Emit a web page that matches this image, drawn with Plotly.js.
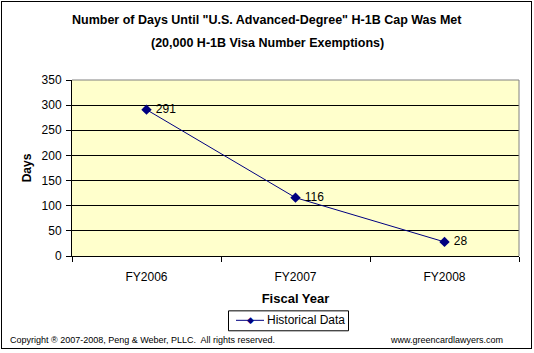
<!DOCTYPE html>
<html><head><meta charset="utf-8">
<script src="https://cdn.plot.ly/plotly-3.0.1.min.js"></script>
<style>
html,body{margin:0;padding:0;background:#fff;}
#wrap{position:relative;width:534px;height:353px;}
#border{position:absolute;left:1px;top:1px;width:529px;height:346px;border:1px solid #000;pointer-events:none;z-index:5;}
#chart{position:absolute;left:0;top:0;width:534px;height:353px;}
</style></head>
<body>
<div id="wrap"><div id="chart"></div><div id="border"></div></div>
<script>
const categories = ["FY2006", "FY2007", "FY2008"];
const days = [291, 116, 28];
const seriesName = "Historical Data";
const yTicks = [0, 50, 100, 150, 200, 250, 300, 350];

const L = 72, R = 15, T = 80, B = 96.5;
const W = 534 - L - R, H = 353 - T - B;
const px = x => (x - L) / W;
const py = y => (353 - B - y) / H;

const navy = "#000080";
const trace = {
  type: "scatter", mode: "lines+markers+text",
  x: categories, y: days, name: seriesName,
  text: days.map(v => " " + v), textposition: "middle right",
  textfont: {family: "Arial, Liberation Sans, sans-serif", size: 12, color: "#000"},
  line: {color: navy, width: 1},
  marker: {symbol: "diamond", size: 8, color: navy},
  cliponaxis: false, showlegend: false
};

const font = "Arial, Liberation Sans, sans-serif";
const layout = {
  width: 534, height: 353,
  margin: {l: L, r: R, t: T, b: B},
  paper_bgcolor: "#fff", plot_bgcolor: "#FFFFCC",
  showlegend: false,
  font: {family: font, size: 12, color: "#000"},
  xaxis: {
    type: "category", range: [-0.5, 2.5], tickson: "boundaries",
    ticks: "outside", ticklen: 5, tickcolor: "#000",
    showline: true, linecolor: "#000", linewidth: 1,
    showgrid: false, tickfont: {family: font, size: 12, color: "#000"},
    ticklabelstandoff: 10,
    title: {text: "Fiscal Year", font: {family: font, size: 13, color: "#000", weight: "bold"}, standoff: 10}
  },
  yaxis: {
    range: [0, 350], tickvals: yTicks, ticktext: yTicks.map(String),
    ticks: "outside", ticklen: 5, tickcolor: "#000",
    showline: true, linecolor: "#000", linewidth: 1,
    showgrid: true, gridcolor: "#000", gridwidth: 1, zeroline: false,
    tickfont: {family: font, size: 12, color: "#000"},
    ticklabelstandoff: 2,
    title: {text: "Days", font: {family: font, size: 12, color: "#000", weight: "bold"}, standoff: 7}
  },
  shapes: [
    {type: "line", xref: "paper", yref: "paper", x0: 0, x1: 1, y0: 1, y1: 1, line: {color: "#808080", width: 1}},
    {type: "line", xref: "paper", yref: "paper", x0: 1, x1: 1, y0: 0, y1: 1, line: {color: "#808080", width: 1}},
    // legend box
    {type: "rect", xref: "paper", yref: "paper", x0: px(228.5), x1: px(348.5), y0: py(311.5), y1: py(331.5),
     line: {color: "#000", width: 1}, fillcolor: "#fff"},
    {type: "line", xref: "paper", yref: "paper", x0: px(236), x1: px(264), y0: py(321), y1: py(321),
     line: {color: navy, width: 1}}
  ],
  annotations: [
    {xref: "paper", yref: "paper", x: px(267), y: py(20), xanchor: "center", yanchor: "middle", showarrow: false,
     text: "Number of Days Until \"U.S. Advanced-Degree\" H-1B Cap Was Met",
     font: {family: font, size: 12.5, color: "#000", weight: "bold"}},
    {xref: "paper", yref: "paper", x: px(267), y: py(43), xanchor: "center", yanchor: "middle", showarrow: false,
     text: "(20,000 H-1B Visa Number Exemptions)",
     font: {family: font, size: 12.5, color: "#000", weight: "bold"}},
    // legend marker and label
    {xref: "paper", yref: "paper", x: px(250), y: py(321), xanchor: "center", yanchor: "middle", showarrow: false,
     text: "\u25C6", font: {family: "DejaVu Sans, sans-serif", size: 9, color: navy}},
    {xref: "paper", yref: "paper", x: px(265), y: py(321), xanchor: "left", yanchor: "middle", showarrow: false,
     text: seriesName, font: {family: font, size: 12, color: "#000"}},
    {xref: "paper", yref: "paper", x: px(8), y: py(341), xanchor: "left", yanchor: "middle", showarrow: false,
     text: "Copyright \u00AE 2007-2008, Peng &amp; Weber, PLLC.  All rights reserved.",
     font: {family: font, size: 9, color: "#000"}},
    {xref: "paper", yref: "paper", x: px(505), y: py(341), xanchor: "right", yanchor: "middle", showarrow: false,
     text: "www.greencardlawyers.com",
     font: {family: font, size: 9, color: "#000"}}
  ]
};

Plotly.newPlot("chart", [trace], layout, {displayModeBar: false, staticPlot: true});
</script>
</body></html>
